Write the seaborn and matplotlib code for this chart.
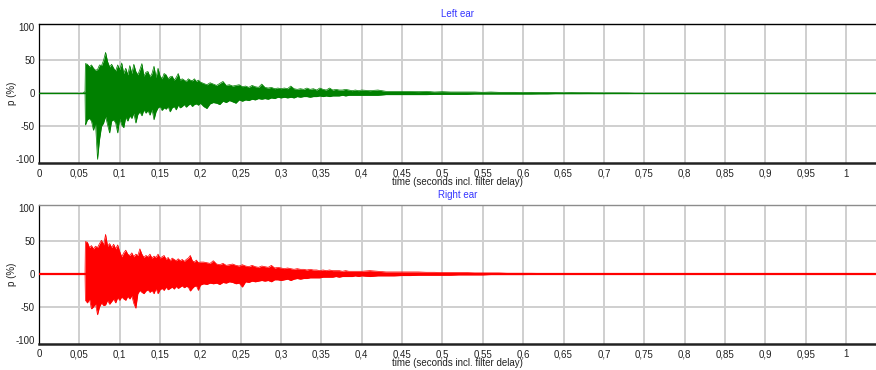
import numpy as np
import pandas as pd
import matplotlib
matplotlib.use("Agg")
import matplotlib.pyplot as plt
from matplotlib.ticker import FuncFormatter, MultipleLocator
import seaborn as sns

# ---------------- data ----------------
titles = ["Left ear", "Right ear"]
xlabel_text = "time (seconds incl. filter delay)"
ylabel_text = "p (%)"
xtick_values = [0, 0.05, 0.1, 0.15, 0.2, 0.25, 0.3, 0.35, 0.4, 0.45, 0.5,
                0.55, 0.6, 0.65, 0.7, 0.75, 0.8, 0.85, 0.9, 0.95, 1]
ytick_values = [-100, -50, 0, 50, 100]

# sample times of the envelope readings (seconds)
t_head_left = [0.0, 0.055, 0.0558, 0.0570]
t_head_right = [0.0, 0.0570]
t_early = [0.0575, 0.0600, 0.0625, 0.0650, 0.0675, 0.0700, 0.0725, 0.0750, 0.0775, 0.0800,
           0.0825, 0.0850, 0.0875, 0.0900, 0.0925, 0.0950, 0.0975, 0.1000, 0.1025, 0.1050,
           0.1075, 0.1100, 0.1125, 0.1150, 0.1175, 0.1200, 0.1225, 0.1250, 0.1275, 0.1300,
           0.1325, 0.1350, 0.1375, 0.1400, 0.1425, 0.1450, 0.1475, 0.1500, 0.1525, 0.1550,
           0.1575, 0.1600, 0.1625, 0.1650, 0.1675, 0.1700, 0.1725, 0.1750, 0.1775, 0.1800,
           0.1825, 0.1850, 0.1875, 0.1900, 0.1925, 0.1950, 0.1975, 0.2000]
t_mid = [0.204, 0.208, 0.212, 0.216, 0.220, 0.224, 0.228, 0.232, 0.236, 0.240,
         0.244, 0.248, 0.252, 0.256, 0.260, 0.264, 0.268, 0.272, 0.276, 0.280,
         0.284, 0.288, 0.292, 0.296, 0.300, 0.304, 0.308, 0.312, 0.316, 0.320,
         0.324, 0.328, 0.332, 0.336, 0.340, 0.344, 0.348, 0.352, 0.356, 0.360,
         0.364, 0.368, 0.372, 0.376, 0.380, 0.384, 0.388, 0.392, 0.396, 0.400]
t_late_left = [0.41, 0.42, 0.43, 0.44, 0.45, 0.46, 0.47, 0.48, 0.49, 0.50, 0.51, 0.52,
               0.53, 0.54, 0.55, 0.56, 0.57, 0.58, 0.59, 0.60, 0.61, 0.62, 0.63, 0.64,
               0.65, 0.66, 0.67, 0.68, 0.69, 0.70, 0.71, 0.72, 0.73, 0.74, 1.037]
t_late_right = [0.41, 0.42, 0.43, 0.44, 0.45, 0.46, 0.47, 0.48, 0.49, 0.50, 0.51, 0.52,
                0.53, 0.54, 0.55, 0.56, 0.57, 0.58, 0.59, 0.60, 0.61, 0.62, 0.63, 0.64,
                0.65, 0.66, 0.67, 0.68, 0.69, 0.70, 0.71, 1.037]

# Left ear: upper / lower envelope (% of full scale)
left_up_head = [0, 0, 2, 2]
left_lo_head = [0, 0, 0, 0]
left_up_early = [45, 44, 40, 43, 38, 35, 36, 43, 42, 50, 62, 48, 40, 44, 38, 34, 43, 36, 46, 30,
                 38, 28, 42, 30, 44, 33, 28, 36, 45, 26, 32, 33, 25, 30, 41, 24, 38, 26, 22, 30,
                 28, 22, 25, 26, 20, 24, 30, 20, 22, 20, 18, 22, 20, 19, 22, 18, 20, 17]
left_lo_early = [-48, -40, -38, -42, -56, -45, -100, -70, -50, -45, -35, -48, -60, -42, -40, -45,
                 -60, -38, -48, -52, -36, -42, -34, -38, -30, -45, -32, -28, -34, -25, -30, -26,
                 -33, -24, -40, -28, -22, -20, -26, -22, -24, -20, -28, -22, -20, -25, -18, -22,
                 -20, -17, -21, -18, -16, -20, -17, -16, -18, -15]
left_up_mid = [15, 13, 16, 14, 12, 15, 18, 12, 13, 11, 12, 13, 10, 11, 9, 12, 10, 9, 14, 9,
               8, 9, 7, 8, 7, 8, 7, 11, 7, 6, 7, 6, 8, 6, 7, 5, 8, 6, 5, 8,
               5, 6, 5, 5, 6, 5, 4, 5, 4, 5]
left_lo_mid = [-20, -23, -16, -14, -15, -17, -12, -14, -11, -13, -15, -10, -12, -10, -11, -9,
               -10, -8, -9, -8, -9, -7, -8, -6, -7, -6, -7, -6, -7, -5, -6, -5, -5, -6, -5, -5,
               -4, -5, -4, -5, -4, -4, -4, -3, -4, -3, -3, -3, -3, -3]
left_up_late = [4, 5, 3, 3, 3, 3, 2.5, 3, 2, 2.5, 2, 2, 2, 2, 1.5, 2, 1.5, 1.5, 1.5, 1, 1.5, 1,
                1, 1, 0.8, 1, 0.8, 0.8, 0.6, 0.6, 0.5, 0.5, 0.4, 0, 0]
left_lo_late = [-3, -3, -2, -2, -2, -2, -2, -2, -1.5, -1.5, -1.5, -1.5, -1.5, -1, -1, -1, -1, -1,
                -1, -1, -1, -0.8, -0.8, -0.5, -0.5, -0.5, -0.5, -0.4, -0.4, -0.4, -0.3, -0.3,
                -0.3, 0, 0]

# Right ear: upper / lower envelope (% of full scale)
right_up_head = [0, 0]
right_lo_head = [0, 0]
right_up_early = [49, 48, 40, 43, 38, 42, 40, 46, 51, 44, 60, 42, 46, 40, 45, 38, 44, 34, 26, 32,
                  36, 30, 28, 32, 26, 30, 28, 38, 30, 25, 28, 26, 30, 24, 27, 25, 30, 24, 26, 28,
                  22, 25, 20, 24, 22, 20, 23, 20, 22, 19, 22, 24, 28, 20, 18, 21, 17, 18]
right_lo_early = [-40, -44, -38, -53, -50, -45, -62, -50, -44, -48, -47, -40, -46, -42, -38, -44,
                  -36, -40, -35, -38, -40, -34, -38, -33, -45, -52, -30, -25, -28, -30, -26, -24,
                  -28, -25, -30, -22, -30, -24, -22, -25, -20, -24, -22, -20, -23, -19, -22, -20,
                  -18, -21, -19, -20, -26, -22, -19, -18, -25, -17]
right_up_mid = [18, 17, 16, 20, 15, 14, 16, 13, 14, 15, 13, 12, 14, 12, 11, 13, 11, 10, 12, 11,
                10, 13, 9, 10, 9, 8, 9, 8, 7, 8, 7, 7, 6, 7, 6, 6, 5, 6, 5, 6,
                5, 5, 5, 4, 5, 4, 4, 4, 4, 4]
right_lo_mid = [-15, -16, -14, -15, -14, -16, -13, -14, -12, -13, -15, -14, -20, -12, -13, -11,
                -12, -11, -10, -11, -10, -12, -9, -9, -10, -9, -8, -10, -8, -7, -8, -7, -7, -6,
                -6, -6, -6, -5, -5, -5, -5, -4, -5, -4, -4, -4, -4, -3, -4, -3]
right_up_late = [5, 4, 3, 3, 3, 3, 3, 2.5, 2.5, 2, 2, 2, 2, 1.5, 1.5, 1.5, 1.5, 1, 1, 1, 1, 0.8,
                 0.8, 0.7, 0.6, 0.5, 0.5, 0.4, 0.4, 0.3, 0, 0]
right_lo_late = [-4, -3, -3, -3, -2.5, -2.5, -2, -2, -2, -2, -2, -1.5, -1.5, -1.5, -1.5, -1, -1,
                 -1, -1, -1, -0.8, -0.8, -0.6, -0.6, -0.5, -0.5, -0.4, -0.4, -0.3, -0.3, 0, 0]

series = [
    dict(t=t_head_left + t_early + t_mid + t_late_left,
         up=left_up_head + left_up_early + left_up_mid + left_up_late,
         lo=left_lo_head + left_lo_early + left_lo_mid + left_lo_late,
         color="#008000", base_lw=1.0),
    dict(t=t_head_right + t_early + t_mid + t_late_right,
         up=right_up_head + right_up_early + right_up_mid + right_up_late,
         lo=right_lo_head + right_lo_early + right_lo_mid + right_lo_late,
         color="#ff0000", base_lw=1.6),
]

# ---------------- styling ----------------
sns.set_theme(style="white")
plt.rcParams["font.family"] = ["Liberation Sans", "DejaVu Sans"]
plt.rcParams["font.size"] = 7

W, H = 876, 370
fig = plt.figure(figsize=(W / 100, H / 100), dpi=100)

ax_boxes = [(39, 24.3, 876, 163.0), (39, 205.0, 876, 343.5)]
top_spine_colors = ["#000000", "#8c8c8c"]

fmt = FuncFormatter(lambda v, p: ("%g" % round(v, 3)).replace(".", ","))

for i, (s, box) in enumerate(zip(series, ax_boxes)):
    x0, y0, x1, y1 = box
    ax = fig.add_axes([x0 / W, 1 - y1 / H, (x1 - x0) / W, (y1 - y0) / H])
    df = pd.DataFrame({"t": s["t"], "up": s["up"], "lo": s["lo"]})

    ax.fill_between(df["t"], df["lo"], df["up"], color=s["color"], lw=0, zorder=3)
    sns.lineplot(data=df, x="t", y="up", ax=ax, color=s["color"], lw=0.5,
                 estimator=None, sort=False, zorder=4)
    sns.lineplot(data=df, x="t", y="lo", ax=ax, color=s["color"], lw=0.5,
                 estimator=None, sort=False, zorder=4)
    zero_df = pd.DataFrame({"t": [s["t"][0], s["t"][-1]], "v": [0, 0]})
    sns.lineplot(data=zero_df, x="t", y="v", ax=ax, color=s["color"],
                 lw=s["base_lw"], estimator=None, zorder=4)

    ax.set_xlim(0, 1.0372)
    ax.set_ylim(-105.5, 104.5)
    ax.set_xticks(xtick_values)
    ax.xaxis.set_minor_locator(MultipleLocator(0.01))
    ax.set_yticks(ytick_values)
    ax.xaxis.set_major_formatter(fmt)
    ax.yaxis.set_major_formatter(fmt)

    ax.grid(True, which="major", color="#cfcfcf", lw=1.4, zorder=0)
    ax.set_axisbelow(True)
    ygl = ax.yaxis.get_gridlines()
    ygl[0].set_visible(False)
    ygl[-1].set_visible(False)

    ax.tick_params(axis="x", which="major", direction="out", length=3, width=0.8,
                   color="#555555", pad=1, labelsize=7, labelcolor="#222222")
    ax.tick_params(axis="x", which="minor", direction="out", length=2, width=0.6,
                   color="#777777")
    ax.tick_params(axis="y", which="major", direction="out", length=0, pad=3,
                   labelsize=7, labelcolor="#222222")

    for side in ["left", "top", "bottom", "right"]:
        ax.spines[side].set_visible(True)
    ax.spines["left"].set_color("#000000")
    ax.spines["left"].set_linewidth(0.9)
    ax.spines["top"].set_color(top_spine_colors[i])
    ax.spines["top"].set_linewidth(1.0)
    ax.spines["bottom"].set_color("#222222")
    ax.spines["bottom"].set_linewidth(1.8)
    ax.spines["right"].set_visible(False)

    ax.set_title(titles[i], color="#3535ff", fontsize=7, pad=5)
    ax.set_xlabel(xlabel_text, fontsize=7, labelpad=-1, color="#222222")
    ax.set_ylabel(ylabel_text, fontsize=7, labelpad=-1, color="#222222")

fig.savefig("out.png", dpi=100)
